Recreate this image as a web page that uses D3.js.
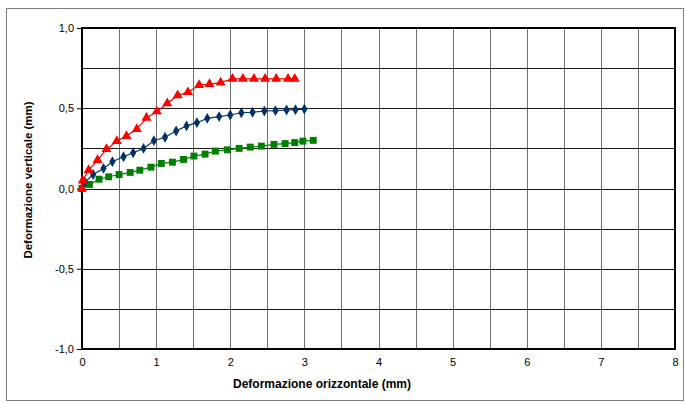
<!DOCTYPE html>
<html>
<head>
<meta charset="utf-8">
<script src="https://cdn.jsdelivr.net/npm/d3@7"></script>
<style>
  body { margin: 0; background: #fff; }
  text { font-family: "Liberation Sans", Arial, sans-serif; }
</style>
</head>
<body>
<div class="container"></div>
<script>
const WIDTH = 685;
const HEIGHT = 403;
const PLOT = { left: 82, top: 28, right: 675, bottom: 349 };

// red triangles
var redX = [0, 0.01, 0.09, 0.21, 0.33, 0.47, 0.60, 0.74, 0.87, 1.01, 1.15, 1.29, 1.43, 1.58, 1.72, 1.87, 2.03, 2.17, 2.32, 2.47, 2.62, 2.78, 2.87];
var redY = [0, 0.05, 0.115, 0.177, 0.245, 0.295, 0.327, 0.37, 0.44, 0.48, 0.53, 0.58, 0.60, 0.645, 0.65, 0.66, 0.683, 0.683, 0.683, 0.683, 0.683, 0.683, 0.683];

// blue diamonds
var blueX = [0, 0.04, 0.15, 0.29, 0.41, 0.56, 0.69, 0.83, 0.97, 1.12, 1.27, 1.41, 1.55, 1.69, 1.85, 2.00, 2.15, 2.30, 2.46, 2.61, 2.76, 2.88, 3.00];
var blueY = [0, 0.04, 0.087, 0.125, 0.167, 0.198, 0.223, 0.25, 0.298, 0.319, 0.358, 0.39, 0.41, 0.437, 0.448, 0.458, 0.472, 0.475, 0.483, 0.485, 0.489, 0.491, 0.495];

// green squares
var greenX = [0, 0.10, 0.23, 0.36, 0.50, 0.65, 0.78, 0.93, 1.07, 1.22, 1.37, 1.51, 1.66, 1.80, 1.96, 2.12, 2.27, 2.42, 2.59, 2.74, 2.87, 2.98, 3.12];
var greenY = [0, 0.025, 0.058, 0.073, 0.087, 0.10, 0.114, 0.133, 0.156, 0.164, 0.181, 0.202, 0.214, 0.233, 0.241, 0.25, 0.258, 0.264, 0.275, 0.28, 0.286, 0.295, 0.30];

var xTicks = [0, 1, 2, 3, 4, 5, 6, 7, 8];
var yTicks = [-1, -0.5, 0, 0.5, 1];

var series = [
    { xs: greenX, ys: greenY, color: "#008000", symbol: d3.symbolSquare, size: 48 },
    { xs: blueX, ys: blueY, color: "#003366", symbol: d3.symbolDiamond, size: 34 },
    { xs: redX, ys: redY, color: "#ff0000", symbol: d3.symbolTriangle, size: 44 }
];

var translate = function(x, y) {
    return `translate(${x},${y})`;
};

var fmt = function(d) {
    return d3.format(".1f")(d).replace(".", ",").replace("−", "-");
};

var svg = d3.select('.container').append('svg')
    .attr('width', WIDTH)
    .attr('height', HEIGHT);

// outer chart frame
svg.append('rect')
    .attr('x', 6.5).attr('y', 8.5)
    .attr('width', 677).attr('height', 392)
    .attr('fill', '#fff')
    .attr('stroke', '#808080');

let xScale = d3.scaleLinear().domain([0, 8]).range([PLOT.left, PLOT.right]);
let yScale = d3.scaleLinear().domain([-1, 1]).range([PLOT.bottom, PLOT.top]);

// grid
var grid = svg.append('g');
grid.selectAll('line.v').data(d3.range(0.5, 8, 0.5)).enter()
    .append('line')
    .attr('x1', (d) => Math.round(xScale(d)) + 0.5)
    .attr('x2', (d) => Math.round(xScale(d)) + 0.5)
    .attr('y1', PLOT.top).attr('y2', PLOT.bottom)
    .attr('stroke', '#707070');
grid.selectAll('line.h').data(d3.range(-0.75, 1, 0.25)).enter()
    .append('line')
    .attr('y1', (d) => Math.round(yScale(d)) + 0.5)
    .attr('y2', (d) => Math.round(yScale(d)) + 0.5)
    .attr('x1', PLOT.left).attr('x2', PLOT.right)
    .attr('stroke', '#1a1a1a');

// plot frame
svg.append('rect')
    .attr('x', PLOT.left).attr('y', PLOT.top)
    .attr('width', PLOT.right - PLOT.left).attr('height', PLOT.bottom - PLOT.top)
    .attr('fill', 'none')
    .attr('stroke', '#000')
    .attr('stroke-width', 2);

// y axis
let yAxis = d3.axisLeft(yScale).tickValues(yTicks).tickSize(5).tickPadding(3).tickFormat(fmt);
svg.append('g')
    .attr('transform', translate(PLOT.left, 0))
    .call(yAxis)
    .call((g) => g.select('.domain').remove())
    .call((g) => g.selectAll('text').attr('font-size', 11).attr('fill', '#000').attr('font-family', '"Liberation Sans", Arial, sans-serif'));

// x axis
let xAxis = d3.axisBottom(xScale).tickValues(xTicks).tickSize(0).tickPadding(9).tickFormat(d3.format("d"));
svg.append('g')
    .attr('transform', translate(0, PLOT.bottom))
    .call(xAxis)
    .call((g) => g.select('.domain').remove())
    .call((g) => g.selectAll('text').attr('font-size', 11).attr('fill', '#000').attr('font-family', '"Liberation Sans", Arial, sans-serif'));

// titles
svg.append('text')
    .attr('x', 322).attr('y', 388)
    .attr('text-anchor', 'middle')
    .attr('font-size', 12).attr('font-weight', 'bold')
    .text('Deformazione orizzontale (mm)');

svg.append('text')
    .attr('transform', translate(32, 180) + ' rotate(-90)')
    .attr('text-anchor', 'middle')
    .attr('font-size', 11.5).attr('font-weight', 'bold')
    .text('Deformazione verticale (mm)');

// series
var line = d3.line()
    .x((d) => xScale(d[0]))
    .y((d) => yScale(d[1]));

series.forEach(function(s) {
    var pts = s.xs.map((x, i) => [x, s.ys[i]]);
    var g = svg.append('g');
    g.append('path')
        .attr('d', line(pts))
        .attr('fill', 'none')
        .attr('stroke', s.color)
        .attr('stroke-width', 1.2);
    g.selectAll('path.m').data(pts).enter()
        .append('path')
        .attr('transform', (d) => translate(xScale(d[0]), yScale(d[1])))
        .attr('d', d3.symbol().type(s.symbol).size(s.size))
        .attr('fill', s.color);
});
</script>
</body>
</html>
